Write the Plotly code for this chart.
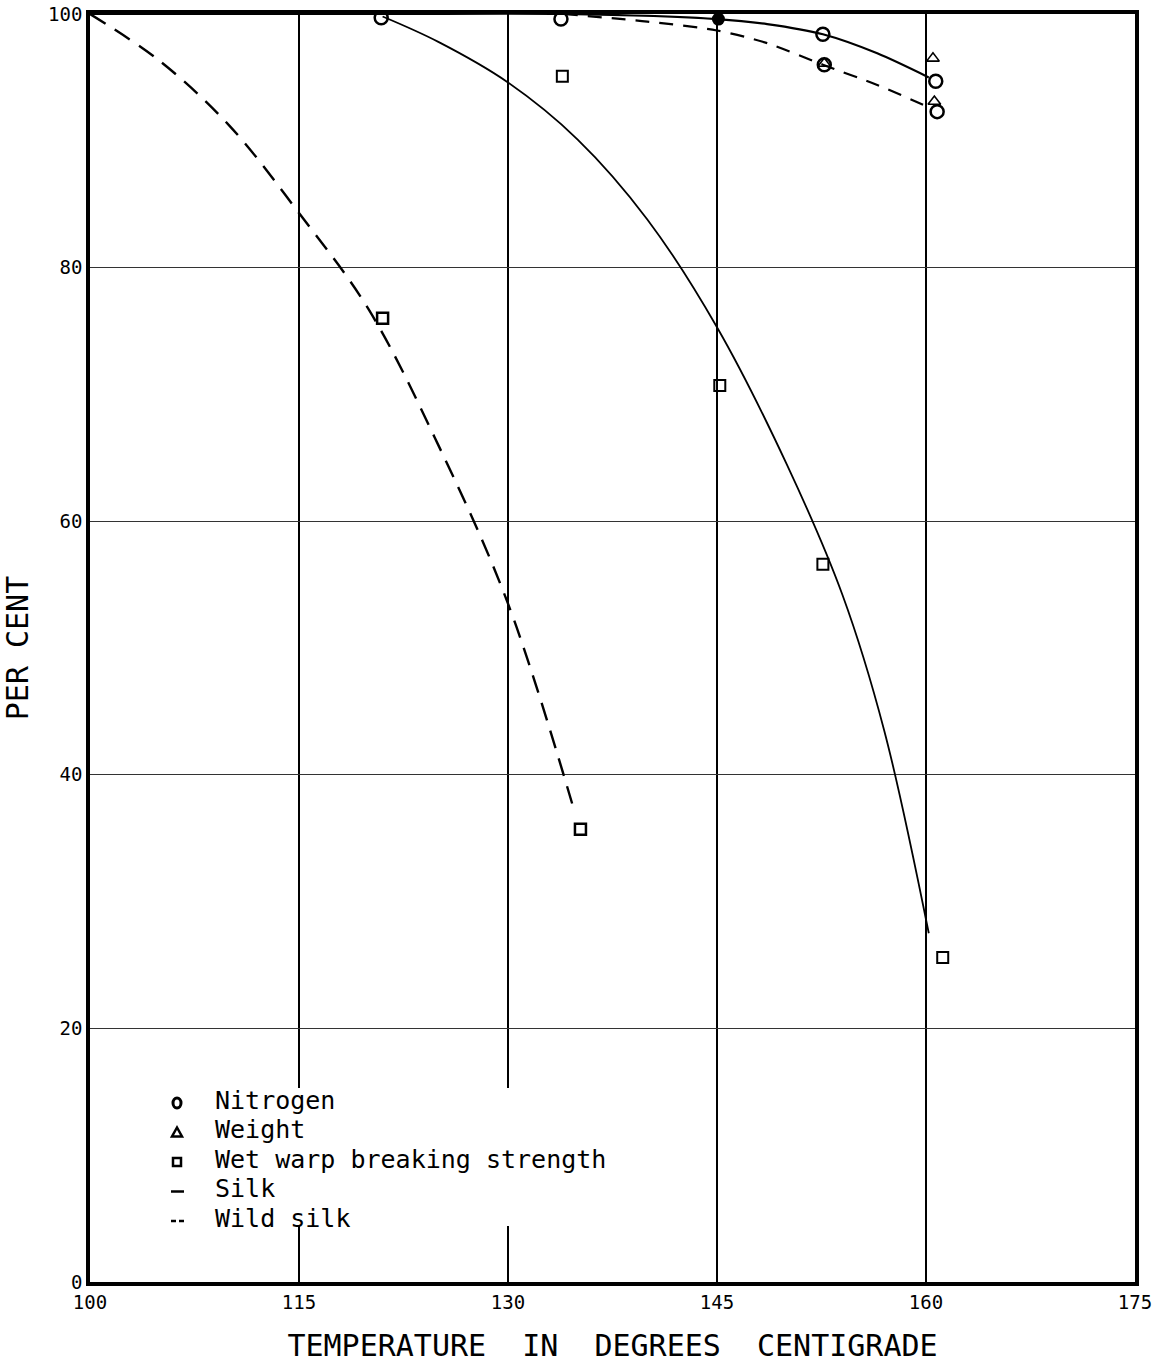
import plotly.graph_objects as go

# ---------------- data ----------------
# Fitted curves
silk_strength_curve_x = [121.0, 125.0, 130.0, 135.0, 140.0, 145.0, 150.0, 154.0, 157.0, 160.2]
silk_strength_curve_y = [99.8, 97.8, 94.6, 90.1, 83.8, 75.3, 64.5, 54.2, 43.5, 27.5]

wild_strength_curve_x = [100.0, 105.0, 110.0, 115.0, 120.0, 125.0, 130.0, 134.8]
wild_strength_curve_y = [100.0, 96.3, 91.2, 84.3, 76.7, 66.0, 53.5, 37.0]

silk_upper_curve_x = [100.0, 121.0, 134.0, 145.0, 148.6, 152.6, 156.5, 160.2]
silk_upper_curve_y = [100.0, 100.0, 100.0, 99.6, 99.2, 98.4, 96.9, 95.0]

wild_upper_curve_x = [134.0, 140.0, 145.0, 148.6, 152.6, 156.5, 160.3]
wild_upper_curve_y = [100.0, 99.4, 98.7, 97.7, 96.0, 94.4, 92.6]

# Measured points
nitrogen_silk_x = [120.9, 133.8, 152.6, 160.7]
nitrogen_silk_y = [99.7, 99.6, 98.4, 94.7]
nitrogen_wild_x = [152.7, 160.8]
nitrogen_wild_y = [96.0, 92.3]
overlap_x = [145.1]
overlap_y = [99.6]
weight_x = [152.7, 160.5, 160.6]
weight_y = [96.1, 96.5, 93.1]
strength_silk_x = [133.9, 145.2, 152.6, 161.2]
strength_silk_y = [95.1, 70.7, 56.6, 25.6]
strength_wild_x = [121.0, 135.2]
strength_wild_y = [76.0, 35.7]

x_ticks = [100, 115, 130, 145, 160, 175]
y_ticks = [0, 20, 40, 60, 80, 100]

legend_labels = ["Nitrogen", "Weight", "Wet warp breaking strength", "Silk", "Wild silk"]

# ---------------- figure ----------------
W, H = 1154, 1366
L, R, T, B = 90, 19, 14, 84
MONO = "DejaVu Sans Mono"

fig = go.Figure()

fig.add_trace(go.Scatter(x=silk_upper_curve_x, y=silk_upper_curve_y, mode="lines",
                         line=dict(color="black", width=2.2, shape="spline", smoothing=0.8),
                         showlegend=False, hoverinfo="skip"))
fig.add_trace(go.Scatter(x=wild_upper_curve_x, y=wild_upper_curve_y, mode="lines",
                         line=dict(color="black", width=2.2, shape="spline", smoothing=0.8, dash="14px,10px"),
                         showlegend=False, hoverinfo="skip"))
fig.add_trace(go.Scatter(x=silk_strength_curve_x, y=silk_strength_curve_y, mode="lines",
                         line=dict(color="black", width=1.8, shape="spline", smoothing=1.0),
                         showlegend=False, hoverinfo="skip"))
fig.add_trace(go.Scatter(x=wild_strength_curve_x, y=wild_strength_curve_y, mode="lines",
                         line=dict(color="black", width=2.4, shape="spline", smoothing=1.0, dash="18px,11px"),
                         showlegend=False, hoverinfo="skip"))

fig.add_trace(go.Scatter(x=nitrogen_silk_x, y=nitrogen_silk_y, mode="markers",
                         marker=dict(symbol="circle-open", size=13, color="black", line=dict(width=2.5)),
                         showlegend=False))
fig.add_trace(go.Scatter(x=nitrogen_wild_x, y=nitrogen_wild_y, mode="markers",
                         marker=dict(symbol="circle-open", size=13, color="black", line=dict(width=2.5)),
                         showlegend=False))
fig.add_trace(go.Scatter(x=overlap_x, y=overlap_y, mode="markers",
                         marker=dict(symbol="circle", size=13, color="black"),
                         showlegend=False))
fig.add_trace(go.Scatter(x=weight_x, y=weight_y, mode="markers",
                         marker=dict(symbol="triangle-up-open", size=11, color="black", line=dict(width=1.6)),
                         showlegend=False))
fig.add_trace(go.Scatter(x=strength_silk_x, y=strength_silk_y, mode="markers",
                         marker=dict(symbol="square-open", size=11, color="black", line=dict(width=2)),
                         showlegend=False))
fig.add_trace(go.Scatter(x=strength_wild_x, y=strength_wild_y, mode="markers",
                         marker=dict(symbol="square-open", size=11, color="black", line=dict(width=2.5)),
                         showlegend=False))

# ---------------- hand-lettered legend ----------------
pw, ph = W - L - R, H - T - B

def px(xp):
    return (xp - L) / pw

def py(yp):
    return (H - B - yp) / ph

row_y = [1100, 1129.5, 1159, 1188.5, 1218]
for lab, yy in zip(legend_labels, row_y):
    fig.add_annotation(x=px(214), y=py(yy), xref="paper", yref="paper", text=lab,
                       showarrow=False, xanchor="left", yanchor="middle", borderpad=0,
                       font=dict(family=MONO, size=25, color="black"))

sy = [r + 3 for r in row_y]
shapes = []
# white patch behind the lettered legend (hides grid lines as in the original)
shapes.append(dict(type="rect", xref="paper", yref="paper", layer="above",
                   x0=px(155), x1=px(690), y0=py(1226), y1=py(1088),
                   fillcolor="white", line=dict(width=0)))
shapes.append(dict(type="circle", xref="paper", yref="paper", x0=px(173), x1=px(181), y0=py(sy[0] - 5), y1=py(sy[0] + 5),
                   line=dict(color="black", width=3)))
shapes.append(dict(type="path", xref="paper", yref="paper",
                   path=f"M {px(172)} {py(sy[1] + 4)} L {px(182)} {py(sy[1] + 4)} L {px(177)} {py(sy[1] - 5)} Z",
                   line=dict(color="black", width=2.5)))
shapes.append(dict(type="rect", xref="paper", yref="paper", x0=px(173), x1=px(181), y0=py(sy[2] + 4), y1=py(sy[2] - 4),
                   line=dict(color="black", width=2.5)))
shapes.append(dict(type="line", xref="paper", yref="paper", x0=px(171), x1=px(184), y0=py(sy[3]), y1=py(sy[3]),
                   line=dict(color="black", width=2.5)))
shapes.append(dict(type="line", xref="paper", yref="paper", x0=px(171), x1=px(176), y0=py(sy[4]), y1=py(sy[4]),
                   line=dict(color="black", width=2.5)))
shapes.append(dict(type="line", xref="paper", yref="paper", x0=px(179), x1=px(184), y0=py(sy[4]), y1=py(sy[4]),
                   line=dict(color="black", width=2.5)))

fig.update_layout(
    width=W, height=H, autosize=False,
    margin=dict(l=L, r=R, t=T, b=B, pad=0),
    paper_bgcolor="white", plot_bgcolor="white",
    font=dict(family=MONO, color="black"),
    shapes=shapes,
    showlegend=False,
    xaxis=dict(range=[100, 175], tickvals=x_ticks, ticktext=[str(v) for v in x_ticks],
               automargin=False,
               showgrid=True, gridcolor="black", gridwidth=2, zeroline=False,
               showline=True, linecolor="black", linewidth=3.5, mirror=True,
               ticks="", tickfont=dict(family=MONO, size=19, color="black"),
               title=dict(text="TEMPERATURE\u00a0\u00a0IN\u00a0\u00a0DEGREES\u00a0\u00a0CENTIGRADE",
                          font=dict(family=MONO, size=30, color="black"), standoff=24)),
    yaxis=dict(range=[0, 100], tickvals=y_ticks, ticktext=[str(v) for v in y_ticks],
               automargin=False,
               showgrid=True, gridcolor="#333", gridwidth=1.1, zeroline=False,
               showline=True, linecolor="black", linewidth=3.5, mirror=True,
               ticks="", tickfont=dict(family=MONO, size=19, color="black"),
               title=dict(text="PER CENT", font=dict(family=MONO, size=30, color="black"), standoff=14)),
)

fig.write_html("out.html")
